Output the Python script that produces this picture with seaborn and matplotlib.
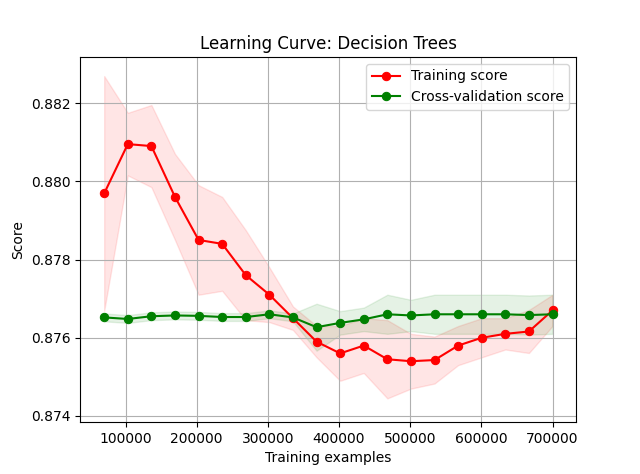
import matplotlib
matplotlib.use("Agg")
import matplotlib.pyplot as plt
import numpy as np
import seaborn as sns

train_sizes = np.array([70000, 103158, 136316, 169474, 202632, 235789, 268947, 302105,
                        335263, 368421, 401579, 434737, 467895, 501053, 534211, 567368,
                        600526, 633684, 666842, 700000])
train_mean = np.array([0.87969, 0.88095, 0.8809, 0.8796, 0.8785, 0.8784, 0.8776, 0.8771,
                       0.8765, 0.8759, 0.8756, 0.8758, 0.87545, 0.8754, 0.87543, 0.8758,
                       0.8760, 0.8761, 0.87616, 0.8767])
train_std = np.array([0.0030, 0.0008, 0.00105, 0.0011, 0.0014, 0.0012, 0.00115, 0.0007,
                      0.0003, 0.0004, 0.0007, 0.0007, 0.0010, 0.0007, 0.0006, 0.0005,
                      0.0005, 0.0004, 0.00055, 0.0004])
cv_mean = np.array([0.87652, 0.87648, 0.87655, 0.87657, 0.87656, 0.87653, 0.87653, 0.8766,
                    0.87652, 0.87627, 0.87638, 0.87647, 0.8766, 0.87657, 0.8766, 0.8766,
                    0.8766, 0.8766, 0.87658, 0.8766])
cv_std = np.array([0.0001, 0.0001, 0.0001, 0.0001, 0.0001, 0.0001, 0.0001, 0.0001,
                   0.0001, 0.0006, 0.0003, 0.0003, 0.0005, 0.0004, 0.0005, 0.0005,
                   0.0005, 0.0005, 0.0005, 0.0005])

fig, ax = plt.subplots(figsize=(6.4, 4.74), dpi=100)
ax.fill_between(train_sizes, train_mean - train_std, train_mean + train_std, alpha=0.1, color="r")
ax.fill_between(train_sizes, cv_mean - cv_std, cv_mean + cv_std, alpha=0.1, color="g")
sns.lineplot(x=train_sizes, y=train_mean, marker="o", color="r", markersize=6,
             markeredgecolor="r", label="Training score", ax=ax)
sns.lineplot(x=train_sizes, y=cv_mean, marker="o", color="g", markersize=6,
             markeredgecolor="g", label="Cross-validation score", ax=ax)
ax.grid(True)
ax.set_title("Learning Curve: Decision Trees")
ax.set_xlabel("Training examples")
ax.set_ylabel("Score")
ax.set_yticks([0.874, 0.876, 0.878, 0.880, 0.882])
ax.set_ylim(0.87385, 0.88318)
ax.set_xlim(36000, 733000)
ax.legend(loc="best")
fig.savefig("out.png", dpi=100)
